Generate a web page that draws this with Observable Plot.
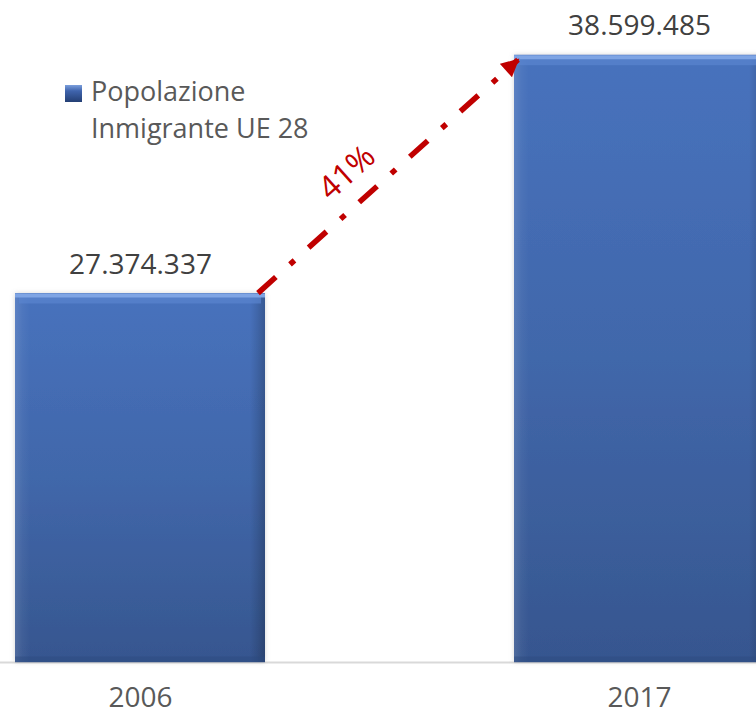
<!DOCTYPE html>
<html>
<head>
<meta charset="utf-8">
<script src="https://cdn.jsdelivr.net/npm/d3@7"></script>
<script src="https://cdn.jsdelivr.net/npm/@observablehq/plot@0.6"></script>
<style>
html, body { margin: 0; padding: 0; background: #fff; }
#wrap { position: relative; width: 756px; height: 715px; overflow: hidden; }
</style>
</head>
<body>
<div id="wrap"></div>
<script>
// ---- data ----
const years = ["2006", "2017"];
const values = [27374337, 38599485];
const growthLabel = "41%";
const legendLines = ["Popolazione", "Inmigrante UE 28"];
const yDomain = [10000000, 40000000];

const data = years.map((y, i) => ({year: y, value: values[i]}));
const fmt = d3.formatLocale({decimal: ",", thousands: ".", grouping: [3], currency: ["", "€"]}).format(",d");
const FONT = "'Open Sans', 'Noto Sans', sans-serif";

const plot = Plot.plot({
  width: 756,
  height: 715,
  marginTop: 25,
  marginBottom: 53,
  marginLeft: 0,
  marginRight: 0,
  style: {fontFamily: FONT, fontSize: "28px", color: "#595959", background: "white"},
  x: {domain: years, range: [-109.75, 888.25], paddingInner: 0.5, paddingOuter: 0.25, tickSize: 0, tickPadding: 25, label: null},
  y: {domain: yDomain, axis: null},
  marks: [
    Plot.ruleY([yDomain[0]], {stroke: "#d9d9d9", strokeWidth: 2}),
    Plot.barY(data, {x: "year", y1: () => yDomain[0], y2: "value", fill: "url(#barGrad)"}),
    Plot.barY(data, {x: "year", y1: () => yDomain[0], y2: "value", fill: "url(#sideGrad)"}),
    Plot.tickY(data, {x: "year", y: "value", dy: 6, strokeWidth: 8, stroke: "#5a85cf", strokeOpacity: 0.7, insetLeft: 4, insetRight: 4}),
    Plot.tickY(data, {x: "year", y: "value", dy: 2, strokeWidth: 4, stroke: "#7ea4e4"}),
    Plot.tickY(data, {x: "year", y: () => yDomain[0], dy: -3, strokeWidth: 6, stroke: "#2c4a7e", strokeOpacity: 0.45}),
    Plot.text(data, {x: "year", y: "value", text: d => fmt(d.value), dy: -20, lineAnchor: "bottom", fontSize: 28, fill: "#404040"})
  ]
});

document.getElementById("wrap").appendChild(plot);

const svg = d3.select(plot);
const defs = svg.insert("defs", ":first-child");

const g1 = defs.append("linearGradient").attr("id", "barGrad").attr("x1", 0).attr("y1", 0).attr("x2", 0).attr("y2", 1);
g1.append("stop").attr("offset", "0%").attr("stop-color", "#4772bd");
g1.append("stop").attr("offset", "50%").attr("stop-color", "#4167aa");
g1.append("stop").attr("offset", "100%").attr("stop-color", "#36568f");

const g2 = defs.append("linearGradient").attr("id", "sideGrad").attr("x1", 0).attr("y1", 0).attr("x2", 1).attr("y2", 0);
[["0%", "#ffffff", 0.12], ["3%", "#ffffff", 0.04], ["6%", "#ffffff", 0], ["94%", "#000000", 0], ["97%", "#000000", 0.1], ["100%", "#000000", 0.22]]
  .forEach(([o, c, a]) => g2.append("stop").attr("offset", o).attr("stop-color", c).attr("stop-opacity", a));

const lg = defs.append("linearGradient").attr("id", "legGrad").attr("x1", 0).attr("y1", 0).attr("x2", 0).attr("y2", 1);
lg.append("stop").attr("offset", "0%").attr("stop-color", "#7c9fdc");
lg.append("stop").attr("offset", "35%").attr("stop-color", "#3f64ad");
lg.append("stop").attr("offset", "100%").attr("stop-color", "#243f74");

const sh = defs.append("filter").attr("id", "shadow").attr("x", "-10%").attr("y", "-10%").attr("width", "120%").attr("height", "120%");
sh.append("feDropShadow").attr("dx", 0).attr("dy", 0).attr("stdDeviation", 2.5).attr("flood-color", "#888").attr("flood-opacity", 0.35);

const mk = defs.append("marker").attr("id", "arrowHead").attr("viewBox", "0 0 10 10")
  .attr("refX", 9).attr("refY", 5).attr("markerWidth", 19).attr("markerHeight", 18)
  .attr("markerUnits", "userSpaceOnUse").attr("orient", "auto");
mk.append("path").attr("d", "M0,0L10,5L0,10Z").attr("fill", "#c00000");

svg.select('g[aria-label="bar"]').attr("filter", "url(#shadow)");

// ---- growth arrow from the library's scales ----
const sx = plot.scale("x"), sy = plot.scale("y");
const bw = sx.bandwidth;
const ax0 = sx.apply(years[0]) + bw - 7, ay0 = sy.apply(values[0]);
const ax1 = sx.apply(years[1]) + 4, ay1 = sy.apply(values[1]) + 5;

svg.append("line")
  .attr("x1", ax0).attr("y1", ay0).attr("x2", ax1).attr("y2", ay1)
  .attr("stroke", "#c00000").attr("stroke-width", 5.5)
  .attr("stroke-dasharray", "24 19 6 19")
  .attr("marker-end", "url(#arrowHead)");

const len = Math.hypot(ax1 - ax0, ay1 - ay0);
const ux = (ax1 - ax0) / len, uy = (ay1 - ay0) / len;
const nx = uy, ny = -ux; // normal pointing up-left
const t = 0.42 * len, off = 31;
const lx = ax0 + ux * t + nx * off, ly = ay0 + uy * t + ny * off;
const ang = Math.atan2(ay1 - ay0, ax1 - ax0) * 180 / Math.PI;
svg.append("text")
  .attr("transform", `translate(${lx},${ly}) rotate(${ang})`)
  .attr("text-anchor", "middle").attr("dy", "0.35em")
  .style("font-size", "32px").attr("fill", "#c00000")
  .style("font-family", FONT)
  .text(growthLabel);

// ---- legend ----
const leg = svg.append("g").style("font-family", FONT).style("font-size", "27px").attr("fill", "#595959").attr("text-anchor", "start");
leg.append("rect").attr("x", 65).attr("y", 85).attr("width", 17).attr("height", 17).attr("fill", "url(#legGrad)");
legendLines.forEach((s, i) => leg.append("text").attr("x", 91).attr("y", 101 + i * 37).attr("text-anchor", "start").text(s));
</script>
</body>
</html>
